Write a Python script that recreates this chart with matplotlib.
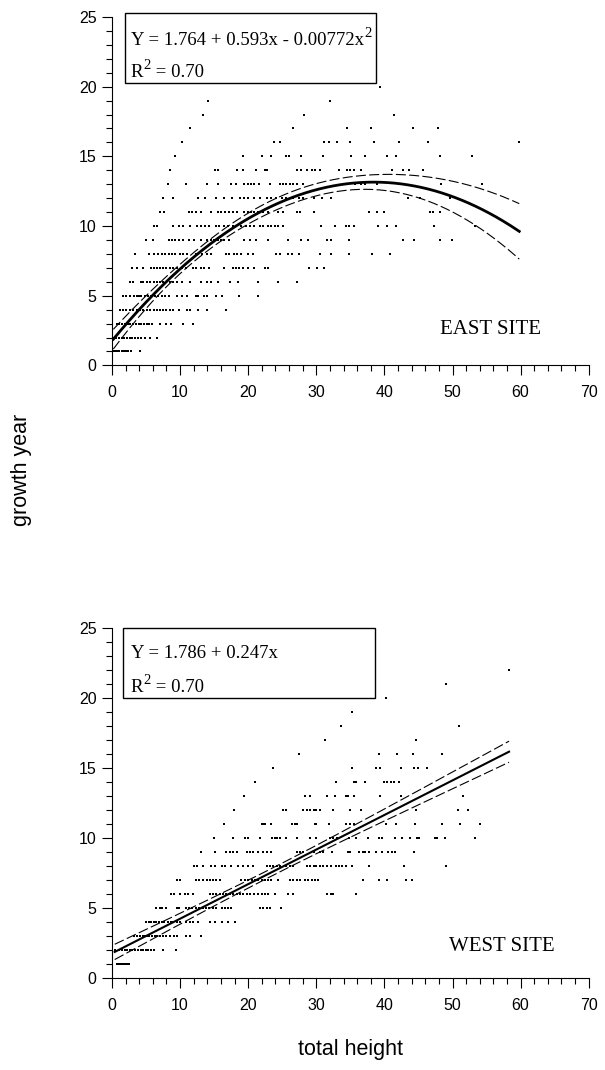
import numpy as np
import matplotlib
matplotlib.use("Agg")
import matplotlib.pyplot as plt
from matplotlib.patches import Rectangle
from matplotlib.ticker import MultipleLocator

# total height readings for each growth year, EAST SITE
east_yr01 = [0.2, 0.5, 0.8, 1.1, 1.4, 1.7, 2.0, 2.4, 2.8, 4.1]
east_yr02 = [0.2, 0.6, 1.0, 1.4, 1.8, 2.2, 2.6, 3.0, 3.4, 3.8, 4.3, 4.8, 5.6, 6.6]
east_yr03 = [0.7, 1.1, 1.5, 1.9, 2.3, 2.7, 3.1, 3.5, 3.9, 4.3, 4.7, 5.1, 5.5, 5.9,
             7.0, 8.0, 8.7, 10.5, 11.9]
east_yr04 = [1.2, 1.6, 2.1, 2.6, 3.1, 3.6, 4.1, 4.6, 5.1, 5.6, 6.1, 6.6, 7.1, 7.5,
             8.0, 8.5, 9.0, 9.8, 11.0, 11.5, 12.7, 14.0, 16.7]
east_yr05 = [1.6, 2.1, 2.6, 3.3, 3.6, 4.0, 4.3, 4.8, 5.3, 5.8, 6.3, 6.8, 7.3, 7.8,
             8.3, 9.5, 10.3, 11.0, 12.3, 12.7, 13.5, 14.0, 15.2, 16.2, 18.7, 21.4]
east_yr06 = [2.7, 3.1, 4.3, 4.6, 5.1, 5.6, 6.1, 6.6, 7.1, 7.5, 8.0, 8.5, 9.0, 9.6,
             10.3, 11.5, 13.0, 14.0, 14.5, 15.5, 17.4, 18.5, 21.4, 24.4, 27.1]
east_yr07 = [3.0, 3.7, 4.5, 5.7, 6.1, 6.6, 7.1, 7.5, 8.0, 8.5, 9.0, 9.6, 10.3, 10.8,
             11.9, 12.4, 13.0, 13.5, 14.2, 16.5, 17.7, 18.2, 18.7, 19.2, 19.9, 20.8,
             22.4, 22.9, 28.9, 30.1, 31.2]
east_yr08 = [3.4, 5.5, 6.1, 6.8, 7.3, 7.8, 8.3, 8.8, 9.3, 10.0, 10.5, 11.0, 12.3,
             12.7, 13.2, 14.0, 14.5, 16.7, 17.2, 17.9, 18.4, 18.9, 19.9, 20.7, 24.1,
             24.6, 25.9, 26.4, 27.4, 30.6, 32.1, 34.8, 38.2, 40.8]
east_yr09 = [5.0, 6.0, 8.3, 8.8, 9.3, 9.8, 10.5, 11.3, 12.0, 13.0, 14.0, 14.5, 15.0,
             15.5, 16.0, 16.5, 17.2, 19.4, 20.2, 21.2, 22.9, 25.9, 27.8, 28.8, 31.6,
             32.1, 34.8, 42.8, 44.3, 48.1, 49.9]
east_yr10 = [6.1, 6.6, 9.0, 9.8, 10.5, 11.5, 12.5, 13.0, 13.7, 14.2, 15.2, 15.7, 16.5,
             17.0, 17.7, 18.2, 18.9, 19.7, 20.3, 20.9, 21.7, 22.2, 22.9, 23.4, 23.9,
             24.4, 25.1, 30.7, 32.8, 34.3, 34.8, 35.6, 39.1, 40.4, 41.7, 47.3, 53.3]
east_yr11 = [7.1, 7.6, 11.3, 11.8, 12.3, 13.0, 14.5, 15.5, 16.0, 16.6, 17.2, 17.7,
             18.3, 19.4, 19.9, 20.4, 20.9, 21.4, 22.2, 22.9, 24.4, 25.1, 27.1, 27.6,
             29.6, 37.7, 38.9, 39.9, 46.7, 47.2, 48.2]
east_yr12 = [7.5, 9.0, 12.7, 13.7, 15.2, 16.5, 17.6, 18.8, 19.4, 20.0, 20.9, 21.8,
             22.7, 23.4, 24.1, 24.9, 25.6, 26.6, 27.4, 28.1, 29.6, 30.8, 32.1, 43.5,
             45.2, 49.6]
east_yr13 = [8.2, 10.9, 14.0, 15.5, 17.5, 18.2, 19.4, 19.9, 20.4, 20.9, 21.6, 23.2,
             24.6, 25.1, 25.6, 26.1, 26.6, 27.1, 28.1, 35.7, 36.5, 37.2, 38.9, 48.3, 54.3]
east_yr14 = [8.5, 15.1, 15.5, 18.4, 19.2, 21.2, 22.4, 22.7, 27.1, 27.8, 28.6, 29.3,
             29.8, 30.6, 33.3, 34.5, 35.0, 35.5, 36.5, 41.1, 42.8, 43.6, 45.7]
east_yr15 = [9.3, 19.3, 22.1, 23.3, 25.5, 26.0, 27.8, 31.0, 35.1, 37.2, 40.4, 41.7,
             48.2, 52.9]
east_yr16 = [10.3, 23.8, 24.6, 31.1, 31.8, 33.1, 35.0, 38.4, 42.2, 46.4, 59.8]
east_yr17 = [11.5, 26.6, 34.5, 38.0, 44.2, 47.8]
east_yr18 = [13.3, 28.2, 41.4]
east_yr19 = [14.1, 32.0]
east_yr20 = [39.3]

# total height readings for each growth year, WEST SITE
west_yr01 = [0.7, 1.0, 1.3, 1.6, 1.9, 2.2, 2.5]
west_yr02 = [0.4, 1.1, 1.5, 1.9, 2.2, 2.6, 3.0, 3.4, 3.8, 4.2, 4.6, 5.0, 5.3, 5.8,
             6.2, 7.5, 9.4]
west_yr03 = [3.3, 3.7, 4.1, 4.5, 4.8, 5.1, 5.5, 5.9, 6.3, 6.6, 7.0, 7.5, 8.0, 8.5,
             9.1, 9.6, 10.9, 11.4, 13.1]
west_yr04 = [5.0, 5.4, 5.8, 6.2, 6.5, 6.9, 7.4, 7.7, 8.2, 8.6, 9.0, 9.6, 10.0, 10.9,
             11.4, 11.9, 12.6, 14.4, 15.1, 16.1, 17.1, 18.0]
west_yr05 = [6.5, 7.0, 7.4, 7.9, 9.5, 9.9, 10.9, 11.3, 11.8, 12.3, 12.8, 13.3, 13.8,
             14.3, 14.8, 15.2, 16.1, 16.6, 17.1, 17.5, 21.7, 22.2, 22.7, 23.2, 24.8]
west_yr06 = [8.6, 9.1, 10.0, 10.7, 11.2, 11.9, 14.4, 14.9, 15.3, 15.8, 16.3, 16.8,
             17.3, 17.8, 18.3, 18.8, 19.3, 19.8, 20.3, 20.8, 21.5, 22.0, 22.5, 22.9,
             23.9, 25.9, 26.6, 31.5, 32.1, 32.5, 35.9]
west_yr07 = [9.6, 10.0, 12.3, 12.8, 13.4, 13.9, 14.4, 14.9, 15.3, 15.8, 19.0, 19.5,
             20.0, 20.5, 21.0, 21.5, 22.0, 22.5, 22.9, 23.4, 24.4, 26.1, 26.6, 27.1,
             27.6, 28.3, 28.8, 29.3, 29.8, 30.3, 36.8, 39.2, 40.4, 43.2, 44.1]
west_yr08 = [12.1, 12.5, 13.4, 14.6, 15.1, 16.1, 16.6, 17.5, 18.5, 19.3, 20.0, 20.7,
             22.7, 23.2, 23.7, 24.2, 24.7, 25.6, 26.1, 26.6, 28.6, 29.1, 29.6, 30.0,
             30.5, 31.0, 31.5, 32.1, 32.9, 33.3, 33.8, 34.3, 35.3, 37.7, 42.9, 49.0]
west_yr09 = [13.1, 15.1, 16.8, 17.3, 17.8, 18.3, 19.8, 20.2, 20.7, 21.5, 22.2, 22.7,
             23.4, 27.1, 27.6, 28.1, 29.6, 30.5, 31.0, 32.3, 34.6, 35.0, 36.3, 36.8,
             37.1, 37.8, 38.8, 39.7, 40.6, 41.1, 41.5, 44.3]
west_yr10 = [15.0, 17.7, 19.5, 20.0, 21.7, 23.5, 23.9, 24.3, 24.7, 25.6, 27.1, 29.1,
             30.0, 32.0, 32.5, 33.0, 34.8, 35.8, 37.6, 39.2, 39.6, 41.5, 42.6, 43.8,
             44.8, 45.1, 47.4, 47.7, 48.9, 53.3]
west_yr11 = [16.4, 22.0, 22.2, 22.5, 23.4, 26.4, 26.8, 27.1, 29.8, 30.0, 31.8, 34.4,
             35.0, 35.5, 40.2, 41.7, 44.5, 48.5, 51.1, 54.1]
west_yr12 = [17.9, 25.1, 25.6, 28.1, 28.6, 29.1, 29.6, 30.0, 30.6, 32.5, 34.9, 36.5,
             44.6, 50.8, 52.3]
west_yr13 = [19.4, 28.3, 29.1, 31.5, 32.7, 34.3, 34.7, 35.5, 39.4, 42.5, 51.5]
west_yr14 = [21.0, 32.9, 35.5, 35.9, 37.2, 39.9, 40.4, 40.9, 41.4, 42.1]
west_yr15 = [23.6, 35.2, 38.7, 39.3, 42.5, 44.3, 45.0, 46.3]
west_yr16 = [27.5, 39.2, 41.8, 44.2, 48.5]
west_yr17 = [31.3, 44.7]
west_yr18 = [33.6, 51.0]
west_yr19 = [35.3]
west_yr20 = [40.3]
west_yr21 = [49.0]
west_yr22 = [58.3]

# fitted equations printed on the chart
east_coef = [1.764, 0.593, -0.00772]
west_coef = [1.786, 0.247]
east_eq = "Y = 1.764 + 0.593x - 0.00772x"
west_eq = "Y = 1.786 + 0.247x"
east_r2 = "0.70"
west_r2 = "0.70"

east_rows = [east_yr01, east_yr02, east_yr03, east_yr04, east_yr05, east_yr06,
             east_yr07, east_yr08, east_yr09, east_yr10, east_yr11, east_yr12,
             east_yr13, east_yr14, east_yr15, east_yr16, east_yr17, east_yr18,
             east_yr19, east_yr20]
west_rows = [west_yr01, west_yr02, west_yr03, west_yr04, west_yr05, west_yr06,
             west_yr07, west_yr08, west_yr09, west_yr10, west_yr11, west_yr12,
             west_yr13, west_yr14, west_yr15, west_yr16, west_yr17, west_yr18,
             west_yr19, west_yr20, west_yr21, west_yr22]


def flatten(rows):
    x, y = [], []
    for yr, hs in enumerate(rows, start=1):
        x += hs
        y += [yr] * len(hs)
    return np.array(x), np.array(y, dtype=float)


def conf_band(x, y, coef, xs):
    # 95% confidence band of the fitted mean
    coef = np.array(coef)
    X = np.vander(x, len(coef), increasing=True)
    resid = y - X @ coef
    s2 = resid @ resid / (len(x) - len(coef))
    cov = s2 * np.linalg.inv(X.T @ X)
    Xs = np.vander(xs, len(coef), increasing=True)
    fit = Xs @ coef
    half = 1.96 * np.sqrt(np.einsum("ij,jk,ik->i", Xs, cov, Xs))
    return fit, fit - half, fit + half


plt.rcParams["font.family"] = ["Liberation Sans", "DejaVu Sans"]
SERIF = "Liberation Serif"

fig = plt.figure(figsize=(6.05, 10.7), dpi=100)
ax_e = fig.add_axes([0.1851, 0.6585, 0.788, 0.3256])
ax_w = fig.add_axes([0.1851, 0.0857, 0.788, 0.3271])

panels = [
    (ax_e, east_rows, east_coef, east_eq, True, east_r2, "EAST SITE", 2.0,
     (0.027, 0.8106, 0.526, 0.201), (0.9196, 0.828), (0.688, 0.090)),
    (ax_w, west_rows, west_coef, west_eq, False, west_r2, "WEST SITE", 1.5,
     (0.023, 0.801, 0.528, 0.199), (0.916, 0.819), (0.707, 0.079)),
]

for ax, rows, coef, eq, squared, r2, site, lw, box, ys, site_xy in panels:
    x, y = flatten(rows)
    ax.scatter(x, y, s=2.2, marker="s", color="black", linewidths=0, zorder=3)

    xs = np.linspace(x.min(), x.max(), 300)
    fit, lo, hi = conf_band(x, y, coef, xs)
    ax.plot(xs, fit, color="black", lw=lw, zorder=4)
    ax.plot(xs, lo, color="black", lw=0.8, dashes=(9, 3), zorder=4)
    ax.plot(xs, hi, color="black", lw=0.8, dashes=(9, 3), zorder=4)

    ax.set_xlim(0, 70)
    ax.set_ylim(0, 25)
    ax.xaxis.set_major_locator(MultipleLocator(10))
    ax.xaxis.set_minor_locator(MultipleLocator(2))
    ax.yaxis.set_major_locator(MultipleLocator(5))
    ax.yaxis.set_minor_locator(MultipleLocator(1))
    ax.tick_params(which="major", direction="out", length=7, width=0.8,
                   labelsize=11.5, pad=7)
    ax.tick_params(which="minor", direction="out", length=4.5, width=0.8)
    ax.tick_params(axis="y", which="major", pad=4)
    for side in ("top", "right"):
        ax.spines[side].set_visible(False)
    for side in ("left", "bottom"):
        ax.spines[side].set_linewidth(0.8)

    ax.add_patch(Rectangle(box[:2], box[2], box[3], transform=ax.transAxes,
                           fill=False, edgecolor="black", lw=1.0, clip_on=False,
                           zorder=5))

    # equation line, with a raised "2" after the x when quadratic
    t1 = ax.text(0.039, ys[0], eq, transform=ax.transAxes, fontsize=13.5,
                 family=SERIF, va="baseline", ha="left")
    if squared:
        ax.annotate("2", xy=(1, 1), xycoords=t1, xytext=(0.5, -1),
                    textcoords="offset points", fontsize=10.5, family=SERIF,
                    va="center", ha="left")

    # R^2 line
    t2 = ax.text(0.039, ys[1], "R", transform=ax.transAxes, fontsize=13.5,
                 family=SERIF, va="baseline", ha="left")
    ax.annotate("2", xy=(1, 1), xycoords=t2, xytext=(0.5, -1),
                textcoords="offset points", fontsize=10.5, family=SERIF,
                va="center", ha="left")
    ax.annotate(" = " + r2, xy=(1, 0), xycoords=t2, xytext=(5.5, 0),
                textcoords="offset points", fontsize=13.5, family=SERIF,
                va="bottom", ha="left")

    ax.text(site_xy[0], site_xy[1], site, transform=ax.transAxes, fontsize=15,
            family=SERIF, va="baseline", ha="left")

fig.text(22 / 605, 1 - 470 / 1070, "growth year", rotation=90, fontsize=15.5,
         ha="center", va="center")
fig.text(350 / 605, 1 - 1050 / 1070, "total height", fontsize=15.5,
         ha="center", va="center")

fig.savefig("out.png", dpi=100)
